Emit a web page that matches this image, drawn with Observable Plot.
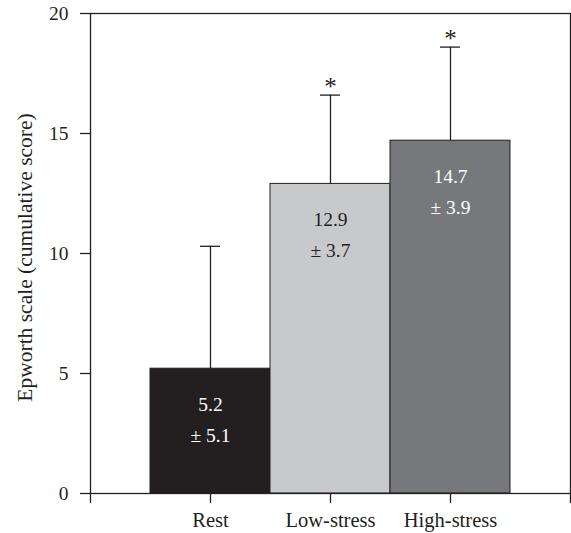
<!DOCTYPE html>
<html>
<head>
<meta charset="utf-8">
<script src="https://cdn.jsdelivr.net/npm/d3@7"></script>
<script src="https://cdn.jsdelivr.net/npm/@observablehq/plot@0.6"></script>
<style>
  html, body { margin: 0; padding: 0; background: #fff; }
</style>
</head>
<body>
<div id="chart"></div>
<script>
const categories = ["Rest", "Low-stress", "High-stress"];
const means = [5.2, 12.9, 14.7];
const sds = [5.1, 3.7, 3.9];
const stars = ["", "*", "*"];
const fills = ["#231f20", "#c8c9cb", "#77787b"];
const labelColors = ["#ffffff", "#231f20", "#ffffff"];
const yTicks = [0, 5, 10, 15, 20];

const data = categories.map((c, i) => ({
  cat: c, pos: i + 1, mean: means[i], sd: sds[i], top: means[i] + sds[i],
  star: stars[i], fill: fills[i], lc: labelColors[i],
  l1: means[i].toFixed(1), l2: "\u00b1 " + sds[i].toFixed(1)
}));
const half = 0.5, cap = 1 / 12;
const ink = "#231f20";
const font = "Liberation Serif, Times New Roman, serif";

const chart = Plot.plot({
  width: 571,
  height: 533,
  marginLeft: 90,
  marginRight: 1,
  marginTop: 13,
  marginBottom: 40,
  style: { fontFamily: font, fontSize: "19px", color: ink, background: "#fff" },
  x: { domain: [0, categories.length + 1] },
  y: { domain: [0, 20] },
  marks: [
    Plot.rectY(data, { x1: d => d.pos - half, x2: d => d.pos + half, y1: 0, y2: "mean", fill: "fill", stroke: ink, strokeWidth: 1 }),
    Plot.ruleX(data, { x: "pos", y1: "mean", y2: "top", stroke: ink, strokeWidth: 1.3 }),
    Plot.ruleY(data, { y: "top", x1: d => d.pos - cap, x2: d => d.pos + cap, stroke: ink, strokeWidth: 1.3 }),
    Plot.text(data, { x: "pos", y: "top", text: "star", fontSize: 25, dy: 0, lineAnchor: "bottom", fill: ink }),
    Plot.text(data, { x: "pos", y: "mean", text: "l1", fill: "lc", fontSize: 19.5, dy: 42, lineAnchor: "bottom" }),
    Plot.text(data, { x: "pos", y: "mean", text: "l2", fill: "lc", fontSize: 19.5, dy: 73, lineAnchor: "bottom" }),
    Plot.frame({ stroke: ink, strokeWidth: 1.3 }),
    Plot.axisY({ ticks: yTicks, tickSize: 10, tickPadding: 12, fontSize: 19.5, strokeWidth: 1.3, label: null }),
    Plot.text(["Epworth scale (cumulative score)"], { frameAnchor: "left", textAnchor: "middle", dx: -65, dy: 4, rotate: -90, fontSize: 21.5, fill: ink }),
    Plot.axisX({ ticks: d3.range(0, categories.length + 2), tickFormat: i => categories[i - 1] ?? "", tickSize: 10, tickPadding: 9, fontSize: 20.5, strokeWidth: 1.3, label: null })
  ]
});
document.getElementById("chart").appendChild(chart);
</script>
</body>
</html>
